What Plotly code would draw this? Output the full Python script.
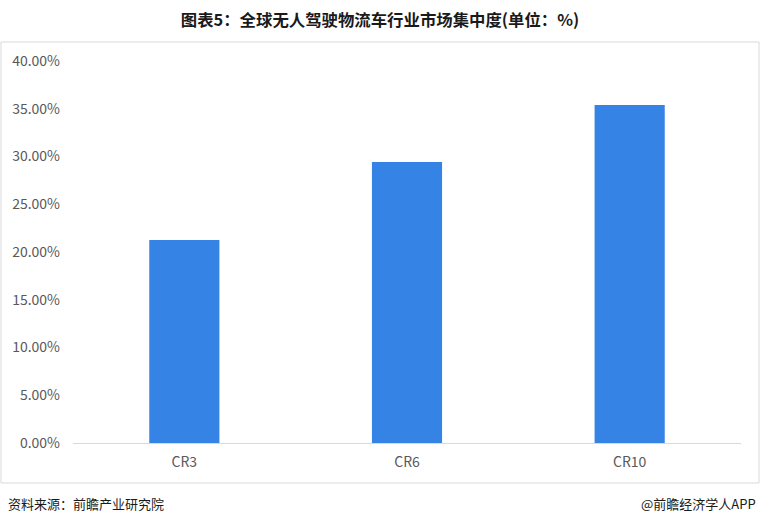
import plotly.graph_objects as go

categories = ["CR3", "CR6", "CR10"]
values = [0.2126, 0.2942, 0.3540]
tick_vals = [0, 0.05, 0.10, 0.15, 0.20, 0.25, 0.30, 0.35, 0.40]

W, H = 760, 524
L, R, T, B = 73, 19, 61, 81
pw, ph = W - L - R, H - T - B

def px(x):
    return (x - L) / pw

def py(y):
    return (H - B - y) / ph

font = "Noto Sans CJK SC, Microsoft YaHei, sans-serif"

fig = go.Figure()
fig.add_trace(go.Bar(
    x=categories, y=values,
    marker=dict(color="#3683E6", line=dict(width=0)),
    width=0.315,
    hoverinfo="x+y",
))

fig.update_layout(
    width=W, height=H,
    margin=dict(l=L, r=R, t=T, b=B),
    paper_bgcolor="white", plot_bgcolor="white",
    showlegend=False,
    font=dict(family=font, color="#595959", size=14),
    title=dict(
        text="<b>图表5：全球无人驾驶物流车行业市场集中度(单位：%)</b>",
        x=0.5, xanchor="center", y=1 - 20 / H, yanchor="middle",
        font=dict(family=font, size=16.4, color="#1a1a1a"),
    ),
    xaxis=dict(
        showgrid=False, showline=True, linecolor="#D9D9D9", linewidth=1,
        ticks="", tickfont=dict(size=14, color="#595959"),
        zeroline=False, ticklabelstandoff=6,
    ),
    yaxis=dict(
        range=[0, 0.40], tickvals=tick_vals, tickformat=".2%",
        showgrid=False, zeroline=False, showline=False, ticks="",
        tickfont=dict(size=14, color="#595959"), ticklabelstandoff=12,
    ),
    shapes=[dict(
        type="rect", xref="paper", yref="paper",
        x0=px(1), x1=px(759), y0=py(483), y1=py(42),
        line=dict(color="#D9D9D9", width=1), fillcolor="rgba(0,0,0,0)",
        layer="below",
    )],
    annotations=[
        dict(text="资料来源：前瞻产业研究院", xref="paper", yref="paper",
             x=px(6), y=py(504), xanchor="left", yanchor="middle",
             showarrow=False, font=dict(family=font, size=13, color="#1a1a1a")),
        dict(text="@前瞻经济学人APP", xref="paper", yref="paper",
             x=px(758), y=py(504), xanchor="right", yanchor="middle",
             showarrow=False, font=dict(family=font, size=13, color="#1a1a1a")),
    ],
)

fig.write_html(
    "out.html",
    config={"displayModeBar": False},
    post_script="document.body.style.margin='0';document.body.style.overflow='hidden';",
)
